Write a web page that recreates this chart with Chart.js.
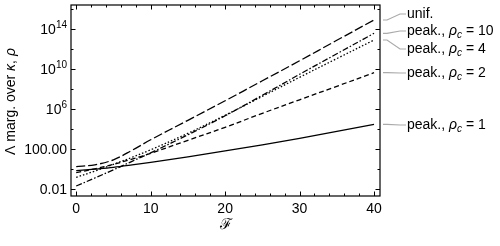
<!DOCTYPE html>
<html>
<head>
<meta charset="utf-8">
<style>
  html, body { margin: 0; padding: 0; background: #fff; }
  #wrap { width: 500px; height: 246px; }
</style>
<script src="https://cdn.jsdelivr.net/npm/chart.js@4"></script>
</head>
<body>
<div id="wrap"><canvas id="chart" width="500" height="246"></canvas></div>
<script>
// x values (the F axis) and log10 of each curve
const F = [0, 2.5, 5, 7.5, 10, 15, 20, 25, 30, 35, 40];
const unifLog   = [0.26, 0.45, 0.95, 1.9, 2.95, 4.9, 6.85, 8.85, 10.85, 12.9, 14.93];
const peak10Log = [-1.67, -0.87, -0.05, 0.8, 1.65, 3.45, 5.35, 7.4, 9.5, 11.55, 13.6];
const peak4Log  = [-0.8, -0.18, 0.5, 1.2, 1.95, 3.6, 5.4, 7.3, 9.2, 11.07, 12.93];
const peak2Log  = [-0.34, 0.05, 0.5, 1.02, 1.6, 2.9, 4.2, 5.6, 6.95, 8.3, 9.66];
const peak1Log  = [-0.14, 0.02, 0.2, 0.44, 0.7, 1.25, 1.85, 2.45, 3.1, 3.8, 4.5];

const xTicks = [0, 10, 20, 30, 40];
const xMinorStep = 2;
const yTickExps = [-2, 2, 6, 10, 14];
const yTickLabels = ['0.01', '100.00', '10^6', '10^10', '10^14'];
const yMinorExps = [0, 4, 8, 12, 16];

const seriesNames = ['unif.', 'peak., ρc = 10', 'peak., ρc = 4', 'peak., ρc = 2', 'peak., ρc = 1'];
const rhoC = [null, '10', '4', '2', '1'];

const FONT = '"Liberation Sans", Arial, sans-serif';
const FS = 14;

function pts(logs) {
  return F.map((f, i) => ({ x: f, y: Math.pow(10, logs[i]) }));
}

function ds(label, logs, dash) {
  return {
    label, data: pts(logs), borderColor: '#000', borderWidth: 1.3,
    borderDash: dash, pointRadius: 0, tension: 0.35, fill: false
  };
}

const labelY = [14, 31, 49, 73, 125];

const decor = {
  id: 'decor',
  afterDraw(chart) {
    const { ctx, chartArea: a, scales: { x, y } } = chart;
    ctx.save();
    const seg = (x1, y1, x2, y2) => { ctx.beginPath(); ctx.moveTo(x1, y1); ctx.lineTo(x2, y2); ctx.stroke(); };
    const font = (sz, it) => (it ? 'italic ' : '') + sz + 'px ' + FONT;

    // frame
    ctx.strokeStyle = '#000';
    ctx.lineWidth = 1.2;
    ctx.strokeRect(a.left, a.top, a.right - a.left, a.bottom - a.top);

    // x ticks, inward on bottom and top
    ctx.lineWidth = 1;
    for (let v = xTicks[0]; v <= xTicks[xTicks.length - 1]; v += xMinorStep) {
      const px = Math.round(x.getPixelForValue(v)) + 0.5;
      const len = xTicks.includes(v) ? 4.5 : 2.5;
      seg(px, a.bottom, px, a.bottom - len);
      seg(px, a.top, px, a.top + len);
    }
    // y ticks, inward on left and right
    yTickExps.concat(yMinorExps).forEach(e => {
      const py = Math.round(y.getPixelForValue(Math.pow(10, e))) + 0.5;
      if (py < a.top || py > a.bottom) return;
      const len = yTickExps.includes(e) ? 4.5 : 2.5;
      seg(a.left, py, a.left + len, py);
      seg(a.right, py, a.right - len, py);
    });

    ctx.fillStyle = '#000';
    // x tick labels
    ctx.font = font(FS);
    ctx.textAlign = 'center';
    ctx.textBaseline = 'alphabetic';
    xTicks.forEach(v => ctx.fillText(String(v), x.getPixelForValue(v), 213));

    // y tick labels (with superscript exponents)
    ctx.textAlign = 'left';
    yTickExps.forEach((e, i) => {
      const py = y.getPixelForValue(Math.pow(10, e)) + 5;
      const lab = yTickLabels[i];
      const right = a.left - 4;
      if (lab.includes('^')) {
        const [base, exp] = lab.split('^');
        ctx.font = font(FS);
        const wb = ctx.measureText(base).width;
        ctx.font = font(10);
        const we = ctx.measureText(exp).width;
        ctx.font = font(FS);
        ctx.fillText(base, right - wb - we, py);
        ctx.font = font(10);
        ctx.fillText(exp, right - we, py - 6);
      } else {
        ctx.font = font(FS);
        ctx.fillText(lab, right - ctx.measureText(lab).width, py);
      }
    });

    // x axis title
    ctx.font = '15px "DejaVu Serif", serif';
    ctx.textAlign = 'center';
    ctx.textBaseline = 'middle';
    ctx.fillText('ℱ', (a.left + a.right) / 2, 225);

    // y axis title (rotated)
    ctx.save();
    ctx.translate(11, (a.top + a.bottom) / 2 + 1);
    ctx.rotate(-Math.PI / 2);
    const parts = [['Λ marg. over ', false], ['κ', true], [', ', false], ['ρ', true]];
    let tw = 0;
    parts.forEach(([t, it]) => { ctx.font = font(FS, it); tw += ctx.measureText(t).width; });
    let cx = -tw / 2;
    ctx.textAlign = 'left';
    parts.forEach(([t, it]) => {
      ctx.font = font(FS, it);
      ctx.fillText(t, cx, 0);
      cx += ctx.measureText(t).width;
    });
    ctx.restore();

    // right-side labels with callouts
    const ends = [unifLog, peak10Log, peak4Log, peak2Log, peak1Log].map(l => l[l.length - 1]);
    ctx.strokeStyle = '#aaa';
    ctx.lineWidth = 1.2;
    ends.forEach((lv, i) => {
      const yd = y.getPixelForValue(Math.pow(10, lv));
      const yl = labelY[i];
      ctx.beginPath();
      ctx.moveTo(a.right + 3, yd);
      ctx.lineTo(a.right + 7, yd);
      ctx.lineTo(a.right + 20, yl);
      ctx.lineTo(a.right + 26, yl);
      ctx.stroke();

      let tx = a.right + 27;
      ctx.textAlign = 'left';
      ctx.textBaseline = 'middle';
      ctx.fillStyle = '#000';
      if (rhoC[i] === null) {
        ctx.font = font(FS);
        ctx.fillText(seriesNames[i], tx, yl);
      } else {
        ctx.font = font(FS);
        ctx.fillText('peak., ', tx, yl); tx += ctx.measureText('peak., ').width;
        ctx.font = font(FS, true);
        ctx.fillText('ρ', tx, yl); tx += ctx.measureText('ρ').width;
        ctx.font = font(10, true);
        ctx.fillText('c', tx, yl + 4); tx += ctx.measureText('c').width;
        ctx.font = font(FS);
        ctx.fillText(' = ' + rhoC[i], tx, yl);
      }
    });
    ctx.restore();
  }
};

new Chart(document.getElementById('chart'), {
  type: 'line',
  data: {
    datasets: [
      ds(seriesNames[0], unifLog, [9, 3]),
      ds(seriesNames[1], peak10Log, [6, 2, 1.5, 2]),
      ds(seriesNames[2], peak4Log, [1.5, 2]),
      ds(seriesNames[3], peak2Log, [5, 3]),
      ds(seriesNames[4], peak1Log, [])
    ]
  },
  options: {
    responsive: false,
    animation: false,
    layout: { padding: { left: 71, right: 120, top: 5, bottom: 50 } },
    plugins: { legend: { display: false }, tooltip: { enabled: false } },
    scales: {
      x: { type: 'linear', min: -0.7, max: 40.8, display: false },
      y: { type: 'logarithmic', min: Math.pow(10, -2.67), max: Math.pow(10, 16.43), display: false }
    }
  },
  plugins: [decor]
});
</script>
</body>
</html>
